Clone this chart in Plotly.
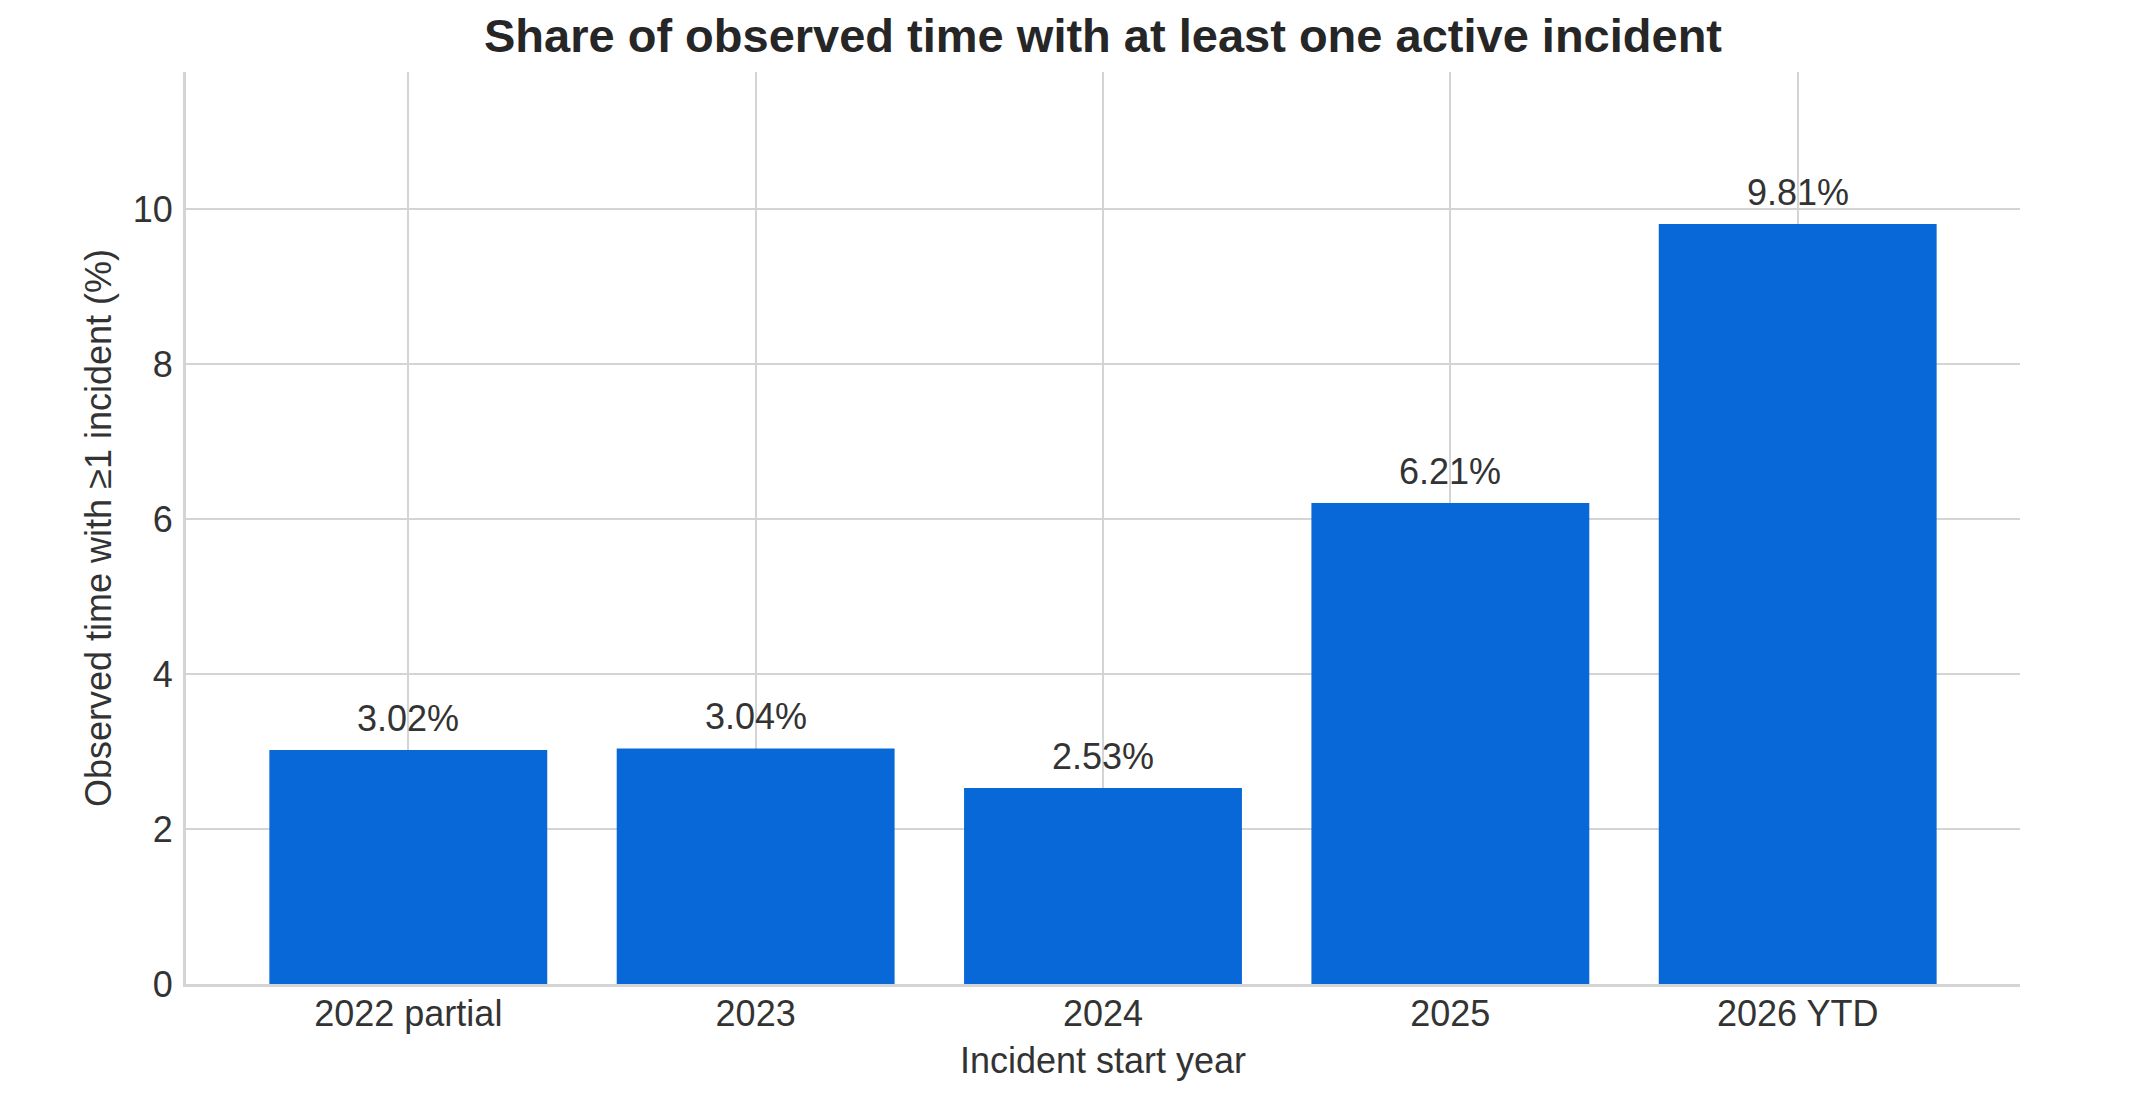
import plotly.graph_objects as go

categories = ["2022 partial", "2023", "2024", "2025", "2026 YTD"]
shares = [3.02, 3.04, 2.53, 6.21, 9.81]
labels = ["3.02%", "3.04%", "2.53%", "6.21%", "9.81%"]
y_ticks = [0, 2, 4, 6, 8, 10]

TEXT = "#333333"
GRID = "#d4d4d4"
BAR = "#0868D8"
FONT = "Liberation Sans, Arial, sans-serif"

W, H = 2113, 1078  # page body has an 8px margin in the browser

fig = go.Figure()
fig.add_trace(go.Bar(
    x=categories,
    y=shares,
    marker=dict(color=BAR, line=dict(width=0)),
    width=0.8,
    hoverinfo="x+y",
    showlegend=False,
))

for i, (v, t) in enumerate(zip(shares, labels)):
    fig.add_annotation(
        x=i, y=v, xref="x", yref="y", text=t, showarrow=False,
        xanchor="center", yanchor="bottom", yshift=9,
        font=dict(family=FONT, size=36, color=TEXT),
    )

fig.update_layout(
    width=W, height=H,
    margin=dict(l=178, r=101, t=64, b=102, pad=0),
    paper_bgcolor="white", plot_bgcolor="white",
    font=dict(family=FONT, size=36, color=TEXT),
    title=dict(
        text="<b>Share of observed time with at least one active incident</b>",
        x=(178 + 2012) / 2 / W, xanchor="center",
        y=1 - 28 / H, yanchor="middle",
        font=dict(family=FONT, size=47, color="#262626"),
    ),
    xaxis=dict(
        type="category",
        range=[-0.64, 4.64],
        showgrid=True, gridcolor=GRID, gridwidth=2,
        showline=True, linecolor=GRID, linewidth=3,
        ticks="", ticklabelstandoff=-4,
        tickfont=dict(size=36, color=TEXT),
        title=dict(text="Incident start year", standoff=15,
                   font=dict(size=36, color=TEXT)),
        zeroline=False,
    ),
    yaxis=dict(
        range=[0, 11.772],
        tickvals=y_ticks,
        ticktext=[str(v) for v in y_ticks],
        showgrid=True, gridcolor=GRID, gridwidth=2,
        showline=True, linecolor=GRID, linewidth=3,
        ticks="", ticklabelstandoff=3,
        tickfont=dict(size=36, color=TEXT),
        title=dict(text="Observed time with ≥1 incident (%)", standoff=11,
                   font=dict(size=36, color=TEXT)),
        zeroline=False,
    ),
    bargap=0.2,
)

fig.write_html("out.html")
